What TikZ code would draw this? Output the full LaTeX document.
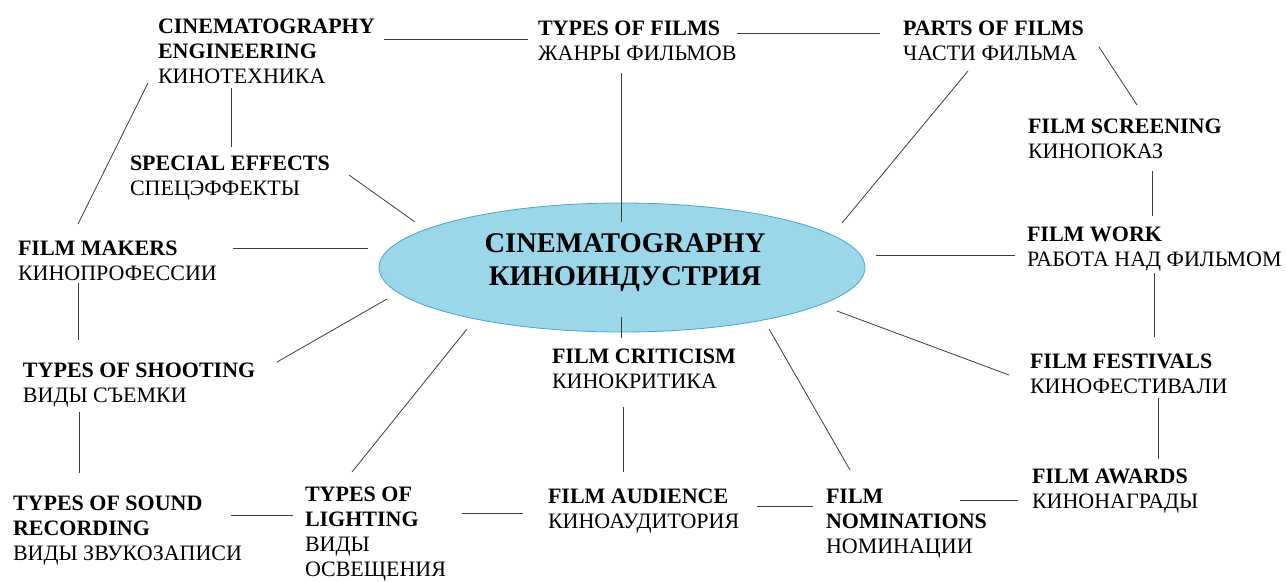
\documentclass[tikz,border=0pt]{standalone}
\usepackage{fontspec}
\setmainfont{Liberation Serif}
\usepackage{tikz}
\usetikzlibrary{shapes.geometric,calc}

\definecolor{hubfill}{RGB}{155,215,233}
\definecolor{hubline}{RGB}{72,164,204}
\definecolor{linkgray}{RGB}{60,60,60}

\begin{document}
\begin{tikzpicture}[x=1pt,y=-1pt,
  topic/.style={inner sep=0pt,outer sep=0pt,anchor=base west,align=left,text=black,font=\fontsize{22}{25}\selectfont},
  hubshape/.style={ellipse,inner sep=0pt,minimum width=486pt,minimum height=129pt,fill=hubfill,draw=hubline,line width=0.8pt},
  hubtext/.style={inner sep=0pt,outer sep=0pt,anchor=base,align=center,font=\bfseries\fontsize{28.5}{33}\selectfont},
  link/.style={draw=linkgray,line width=0.8pt}]
\path[use as bounding box] (0,0) rectangle (1287,581);
\path[fill=white,draw=none] (0,0) rectangle (1287,581);
% central ellipse
\node[hubshape] (hub) at (622,267.5) {};
\node[hubtext] (hubtitle) at (625,285) {CINEMATOGRAPHY\\КИНОИНДУСТРИЯ};
% topics (placed at the baseline of their last line)
\node[topic] (cineng) at (158,83) {\textbf{CINEMATOGRAPHY}\\\textbf{ENGINEERING}\\КИНОТЕХНИКА};
\node[topic] (films) at (538,60) {\textbf{TYPES OF FILMS}\\ЖАНРЫ ФИЛЬМОВ};
\node[topic] (parts) at (903,60) {\textbf{PARTS OF FILMS}\\ЧАСТИ ФИЛЬМА};
\node[topic] (screening) at (1028,158) {\textbf{FILM SCREENING}\\КИНОПОКАЗ};
\node[topic] (work) at (1027,266) {\textbf{FILM WORK}\\РАБОТА НАД ФИЛЬМОМ};
\node[topic] (effects) at (130,195) {\textbf{SPECIAL EFFECTS}\\СПЕЦЭФФЕКТЫ};
\node[topic] (makers) at (18,280) {\textbf{FILM MAKERS}\\КИНОПРОФЕССИИ};
\node[topic] (shooting) at (23,402) {\textbf{TYPES OF SHOOTING}\\ВИДЫ СЪЕМКИ};
\node[topic] (sound) at (13,560) {\textbf{TYPES OF SOUND}\\\textbf{RECORDING}\\ВИДЫ ЗВУКОЗАПИСИ};
\node[topic] (lighting) at (305,576) {\textbf{TYPES OF}\\\textbf{LIGHTING}\\ВИДЫ\\ОСВЕЩЕНИЯ};
\node[topic] (criticism) at (552,388) {\textbf{FILM CRITICISM}\\КИНОКРИТИКА};
\node[topic] (audience) at (548,528) {\textbf{FILM AUDIENCE}\\КИНОАУДИТОРИЯ};
\node[topic] (nominations) at (826,553) {\textbf{FILM}\\\textbf{NOMINATIONS}\\НОМИНАЦИИ};
\node[topic] (festivals) at (1030,393) {\textbf{FILM FESTIVALS}\\КИНОФЕСТИВАЛИ};
\node[topic] (awards) at (1032,508) {\textbf{FILM AWARDS}\\КИНОНАГРАДЫ};
% connectors
\draw[link] ($(cineng.base west)+(226,-44)$) -- ($(films.base west)+(-10,-21)$);
\draw[link] ($(films.base west)+(199,-27)$) -- ($(parts.base west)+(-23,-27)$);
\draw[link] ($(cineng.base west)+(73,5)$) -- ($(effects.base west)+(101,-48)$);
\draw[link] ($(cineng.base west)+(-10,0)$) -- ($(makers.base west)+(60,-56)$);
\draw[link] ($(effects.base west)+(219,-20)$) -- ($(hub.center)+(-207,-45.5)$);
\draw[link] ($(makers.base west)+(215,-32)$) -- ($(hub.center)+(-254,-19.5)$);
\draw[link] ($(makers.base west)+(60,3)$) -- ($(shooting.base west)+(55,-62)$);
\draw[link] ($(shooting.base west)+(254,-40)$) -- ($(hub.center)+(-235,31.5)$);
\draw[link] ($(shooting.base west)+(56,10)$) -- ($(sound.base west)+(66,-87)$);
\draw[link] ($(sound.base west)+(218,-45)$) -- ($(lighting.base west)+(-12,-61)$);
\draw[link] ($(lighting.base west)+(47,-104)$) -- ($(hub.center)+(-155,61.5)$);
\draw[link] ($(lighting.base west)+(157,-63)$) -- ($(audience.base west)+(-25,-15)$);
\draw[link] ($(audience.base west)+(209,-22)$) -- ($(nominations.base west)+(-13,-47)$);
\draw[link] ($(criticism.base west)+(69,-50)$) -- ($(hub.center)+(-1,49.5)$);
\draw[link] ($(criticism.base west)+(71,19)$) -- ($(audience.base west)+(75,-56)$);
\draw[link] ($(nominations.base west)+(24,-83)$) -- ($(hub.center)+(147,61.5)$);
\draw[link] ($(nominations.base west)+(134,-53)$) -- ($(awards.base west)+(-14,-8)$);
\draw[link] ($(festivals.base west)+(-21,-18)$) -- ($(hub.center)+(215,43.5)$);
\draw[link] ($(festivals.base west)+(128,5)$) -- ($(awards.base west)+(126,-49)$);
\draw[link] ($(work.base west)+(127,7)$) -- ($(festivals.base west)+(124,-56)$);
\draw[link] ($(work.base west)+(-12,-11)$) -- ($(hub.center)+(254,-12.5)$);
\draw[link] ($(screening.base west)+(124,13)$) -- ($(work.base west)+(125,-50)$);
\draw[link] ($(parts.base west)+(196,-13)$) -- ($(screening.base west)+(109,-53)$);
\draw[link] ($(parts.base west)+(65,11)$) -- ($(hub.center)+(220,-44.5)$);
\draw[link] ($(films.base west)+(83,13)$) -- ($(hub.center)+(-1,-45.5)$);
\end{tikzpicture}
\end{document}
